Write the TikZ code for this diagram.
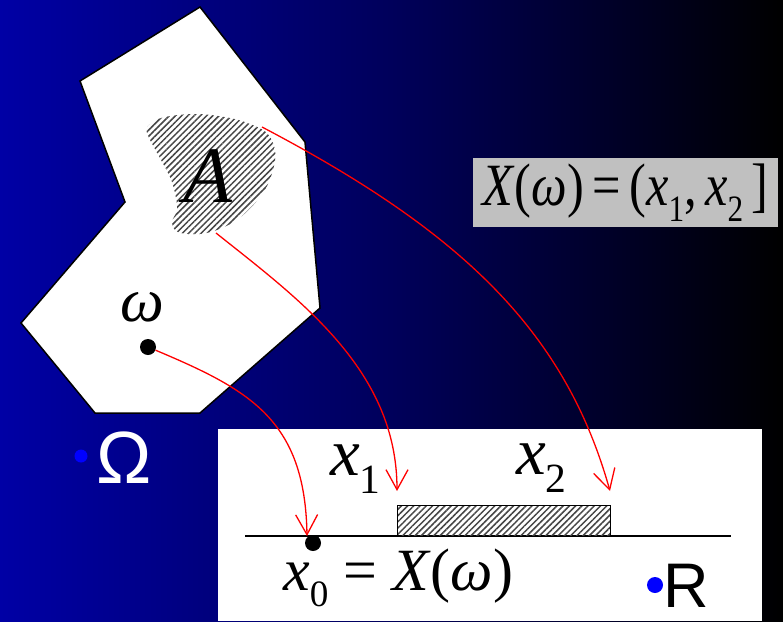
\documentclass[tikz,border=0pt]{standalone}
\usepackage{fontspec}
\usepackage{graphicx}
\setmainfont{Liberation Serif}
\newfontfamily\arialfont{Liberation Sans}
\usetikzlibrary{arrows.meta,patterns.meta}
\definecolor{deepblue}{RGB}{0,0,165}
\definecolor{boxgray}{RGB}{192,192,192}
\definecolor{dotblue}{RGB}{0,0,255}
\definecolor{mapred}{RGB}{255,0,0}
\definecolor{hatchink}{RGB}{70,70,70}
\tikzset{
  mapto/.style={-{Straight Barb[length=20pt,width=22pt]},draw=mapred,line width=1.3pt},
  pt/.style={circle,fill=black,inner sep=0pt,minimum size=16pt},
  bpt/.style={circle,fill=dotblue,inner sep=0pt,minimum size=15pt},
  mlbl/.style={inner sep=0pt,font=\fontsize{60}{60}\selectfont},
  slbl/.style={inner sep=0pt,font=\arialfont\fontsize{#1}{#1}\selectfont},
  hatched/.style={pattern={Lines[angle=45,distance=4.4pt,line width=1.5pt]},pattern color=hatchink},
}
\newcommand{\ix}[1]{\textit{#1}}
\newcommand{\lowidx}[1]{\raisebox{-0.27em}{\scalebox{0.62}{#1}}}

\begin{document}
\begin{tikzpicture}[x=1pt,y=-1pt]
  \useasboundingbox (0,0) rectangle (783,621);
  \shade[left color=deepblue,right color=black,middle color=deepblue!55!black] (0,0) rectangle (783,621);
  \fill[white] (218,429) rectangle (762,621);
  % sample space
  \draw[fill=white,line width=1.5pt,line join=miter] (200,7) -- (305,142) -- (320,308) -- (200,413)
    -- (95,413) -- (21,323) -- (125,202) -- (80,81) -- cycle;
  \fill[hatched] plot[smooth cycle,tension=0.6] coordinates {(147,133) (160,158) (170,177)
    (175,193) (177,210) (172,222) (178,232) (200,234) (222,228) (242,216) (263,193) (273,170)
    (275,150) (267,133) (250,124) (230,118) (197,114) (165,117) (150,124)};
  \node[mlbl,font=\fontsize{80}{80}\selectfont] (Alab) at (208,176) {\ix{A}};
  \node[mlbl,font=\fontsize{62}{62}\selectfont] (wlab) at (142,307) {\ix{ω}};
  \node[pt] (wdot) at (148,347) {};
  \node[bpt,minimum size=13pt] (Odot) at (81,456) {};
  \node[slbl=74,text=white,anchor=base] (Olab) at (124,483) {Ω};
  % image box
  \node[fill=boxgray,minimum width=305pt,minimum height=69pt,inner sep=0pt] (Xbox) at (625.5,192.5)
    {\resizebox{286pt}{\height}{\fontsize{60}{60}\selectfont\ix{X}(\ix{ω})\,=\,(\ix{x}\lowidx{1},\,\ix{x}\lowidx{2}\,]}};
  % real line
  \draw[line width=1.5pt] (245,536) -- (731,536);
  \draw[hatched,draw=black,line width=1pt] (397,505) rectangle (610,536);
  \node[pt] (x0dot) at (313,543) {};
  \node[mlbl,anchor=base west] (x0lab) at (283,590) {\ix{x}\lowidx{0} = \ix{X}(\ix{ω})};
  \node[mlbl,font=\fontsize{67}{67}\selectfont,anchor=base west] (x1lab) at (330,475) {\ix{x}\lowidx{1}};
  \node[mlbl,font=\fontsize{67}{67}\selectfont,anchor=base west] (x2lab) at (516,474) {\ix{x}\lowidx{2}};
  \node[bpt,minimum size=16pt] (Rdot) at (655,585) {};
  \node[slbl=63,anchor=base west] (Rlab) at (663,607) {R};
  % mapping arrows
  \coordinate (Atop) at (262,127);
  \coordinate (Abot) at (216,233);
  \coordinate (x0tip) at (307,536);
  \coordinate (x1tip) at (397,491);
  \coordinate (x2tip) at (610,491);
  \draw[mapto] (Atop) .. controls (462,232) and (565,331) .. (x2tip);
  \draw[mapto] (Abot) .. controls (300,300) and (397,370) .. (x1tip);
  \draw[mapto] (wdot) .. controls (250,390) and (305,420) .. (x0tip);
\end{tikzpicture}
\end{document}
